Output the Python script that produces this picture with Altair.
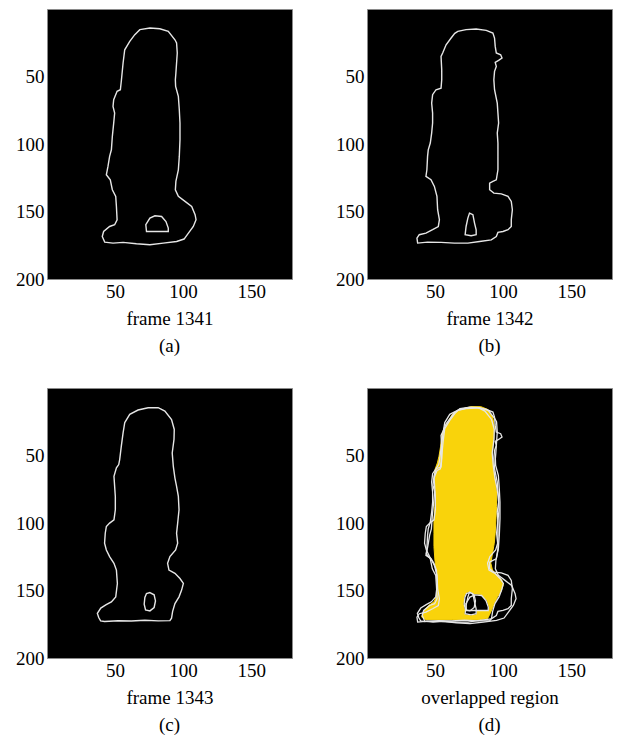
import altair as alt
import pandas as pd

# ---------------- data (image pixel coordinates: x = column, y = row) ----------------
A_OUT_X = [68.2, 75.6, 82.9, 89.1, 94.0, 95.2, 95.7, 94.7, 94.3, 94.5, 96.5, 97.2, 97.7, 97.7, 97.2,
           96.5, 94.7, 94.3, 96.5, 101.4, 106.3, 108.8, 109.5, 107.5, 103.9, 100.7, 95.2, 85.4, 75.6,
           65.7, 55.9, 48.5, 42.4, 40.6, 41.6, 46.0, 49.7, 51.5, 51.0, 50.5, 48.0, 46.5, 43.6, 44.8,
           46.0, 47.3, 48.0, 49.0, 49.7, 48.5, 49.0, 51.5, 53.9, 54.7, 55.9, 57.1, 60.8, 64.5]
A_OUT_Y = [15.3, 14.1, 14.6, 16.6, 22.8, 25.2, 32.6, 47.4, 52.4, 57.3, 64.7, 74.6, 84.5, 96.8, 109.2,
           119.1, 127.7, 133.9, 138.8, 142.5, 146.3, 152.4, 156.1, 161.1, 166.0, 170.4, 172.2, 173.4,
           174.6, 173.9, 172.9, 173.4, 172.7, 168.5, 164.8, 161.1, 159.8, 156.1, 146.3, 138.8, 133.9,
           126.5, 122.8, 116.6, 109.2, 104.3, 94.4, 84.5, 77.1, 72.2, 67.2, 61.0, 59.8, 52.4, 40.0,
           30.2, 24.0, 19.0]
A_HOLE_X = [73.1, 72.6, 75.6, 79.3, 84.2, 87.4, 89.1, 89.1]
A_HOLE_Y = [164.8, 159.8, 154.9, 153.2, 153.7, 157.4, 162.3, 164.8]

B_OUT_X = [64.2, 66.7, 72.8, 80.2, 87.6, 92.5, 93.7, 94.2, 95.0, 98.2, 99.2, 96.7, 94.2, 95.0, 93.7,
           93.2, 93.7, 95.7, 96.2, 96.7, 95.7, 96.2, 96.2, 96.2, 95.0, 92.5, 90.1, 90.1, 93.2, 98.7,
           103.6, 106.0, 106.8, 106.0, 106.0, 103.6, 99.9, 96.2, 95.0, 91.3, 82.7, 74.1, 64.2, 54.4,
           44.5, 37.2, 36.7, 38.4, 43.3, 48.2, 52.4, 53.2, 51.9, 51.4, 49.5, 47.0, 43.3, 44.0, 44.5,
           45.0, 46.5, 47.5, 48.2, 48.2, 47.5, 48.2, 50.7, 54.4, 54.9, 54.9, 54.4, 55.6, 58.1, 61.8]
B_OUT_Y = [18.3, 16.6, 15.3, 14.8, 15.8, 17.8, 21.5, 27.7, 32.6, 33.9, 36.3, 38.1, 39.5, 42.5, 46.2,
           52.4, 59.8, 69.7, 77.1, 84.5, 91.9, 99.3, 109.2, 119.1, 126.5, 127.7, 129.0, 133.9, 136.4,
           136.9, 138.8, 142.5, 148.7, 156.1, 161.1, 163.5, 164.8, 165.5, 168.5, 171.0, 172.2, 173.4,
           173.4, 172.9, 172.7, 173.4, 169.7, 167.2, 166.0, 163.5, 161.1, 156.1, 148.7, 138.8, 131.4,
           126.5, 124.0, 119.1, 109.2, 104.3, 99.3, 91.9, 84.5, 77.1, 69.7, 63.5, 59.8, 58.6, 52.4,
           45.0, 35.1, 32.6, 26.5, 21.5]
B_HOLE_X = [75.3, 77.8, 79.0, 80.2, 80.2, 76.5, 72.1, 72.8, 74.1]
B_HOLE_Y = [151.2, 152.4, 158.6, 163.5, 167.2, 168.0, 167.2, 161.1, 154.9]

C_OUT_X = [57.1, 60.8, 66.9, 74.3, 81.7, 86.6, 91.5, 93.5, 93.3, 92.0, 92.8, 94.0, 95.2, 96.5, 97.0,
           96.0, 95.2, 96.0, 94.5, 90.3, 88.6, 89.6, 94.0, 97.7, 100.2, 98.9, 97.0, 94.0, 92.3, 91.5,
           90.3, 81.7, 71.9, 62.0, 52.2, 42.3, 39.4, 38.0, 37.0, 39.5, 43.5, 47.3, 50.5, 51.7, 51.0,
           49.2, 46.0, 43.6, 42.3, 42.8, 43.6, 46.0, 49.2, 50.2, 50.2, 49.7, 49.2, 51.0, 52.7, 53.4,
           54.6, 55.9]
C_OUT_Y = [25.7, 19.5, 16.3, 14.6, 14.6, 17.1, 23.3, 30.7, 38.1, 48.1, 58.0, 66.7, 72.9, 80.3, 90.2,
           100.1, 107.6, 115.0, 120.0, 124.9, 129.9, 134.9, 137.3, 141.1, 144.8, 149.7, 154.7, 159.7,
           165.5, 170.5, 172.3, 172.5, 172.0, 172.6, 172.4, 173.0, 172.5, 170.0, 167.0, 163.0, 160.5,
           158.4, 154.7, 144.8, 134.9, 129.9, 124.9, 120.0, 115.0, 107.6, 102.6, 100.1, 97.7, 90.2,
           80.3, 72.9, 65.4, 59.2, 56.7, 53.0, 43.1, 33.2]
C_HOLE_X = [75.6, 78.7, 79.7, 78.7, 75.6, 72.4, 71.4, 71.9, 73.1]
C_HOLE_Y = [151.5, 153.2, 157.7, 162.6, 165.1, 164.4, 160.2, 155.2, 152.2]

OVL_X = [59.0, 62.7, 68.9, 76.3, 83.6, 88.6, 92.2, 93.5, 93.0, 92.2, 92.7, 94.2, 95.2, 95.2, 94.7,
         94.2, 93.5, 92.2, 91.0, 92.2, 95.9, 99.1, 100.1, 98.4, 95.9, 93.5, 91.0, 88.6, 82.4, 72.6,
         62.7, 52.9, 43.0, 40.1, 41.8, 45.5, 49.2, 50.9, 51.7, 50.9, 49.9, 49.2, 49.2, 49.2, 49.9,
         50.4, 49.2, 49.9, 51.7, 52.9, 54.1, 55.3]
OVL_Y = [25.7, 19.5, 15.8, 13.8, 13.8, 15.8, 20.8, 28.2, 38.1, 48.1, 58.0, 67.9, 77.8, 87.7, 97.7,
         107.6, 115.0, 122.5, 129.9, 134.9, 138.6, 142.3, 146.0, 151.0, 154.7, 159.7, 165.9, 170.8,
         171.6, 171.6, 171.6, 171.6, 171.6, 169.6, 164.6, 160.9, 158.4, 154.7, 144.8, 134.9, 127.4,
         117.5, 107.6, 97.7, 87.7, 77.8, 67.9, 60.5, 55.5, 50.5, 43.1, 33.2]

X_TICKS = [50, 100, 150]
Y_TICKS = [50, 100, 150, 200]
CAPTIONS = ["frame 1341", "frame 1342", "frame 1343", "overlapped region"]
TAGS = ["(a)", "(b)", "(c)", "(d)"]


def contour(xs, ys, name):
    return pd.DataFrame({"x": xs, "y": ys, "i": list(range(len(xs))), "c": name})


A = pd.concat([contour(A_OUT_X, A_OUT_Y, "a_out"), contour(A_HOLE_X, A_HOLE_Y, "a_hole")])
B = pd.concat([contour(B_OUT_X, B_OUT_Y, "b_out"), contour(B_HOLE_X, B_HOLE_Y, "b_hole")])
C = pd.concat([contour(C_OUT_X, C_OUT_Y, "c_out"), contour(C_HOLE_X, C_HOLE_Y, "c_hole")])
HOLES = pd.concat([contour(A_HOLE_X, A_HOLE_Y, "a_hole"), contour(B_HOLE_X, B_HOLE_Y, "b_hole"),
                   contour(C_HOLE_X, C_HOLE_Y, "c_hole")])
ALL = pd.concat([A, B, C])
OVL = contour(OVL_X, OVL_Y, "ovl")

FONT = "Liberation Serif"
FS = 19
W, H = 245, 270
WHITE = "#e6e6e6"
YELLOW = "#F9D30B"


def enc(caption):
    return dict(
        x=alt.X("x:Q", scale=alt.Scale(domain=[0, 180], nice=False, zero=False),
                axis=alt.Axis(values=X_TICKS, title=caption)),
        y=alt.Y("y:Q", scale=alt.Scale(domain=[0, 200], nice=False, zero=False, reverse=True),
                axis=alt.Axis(values=Y_TICKS, title=None)),
        order=alt.Order("i:Q"),
        detail="c:N",
    )


def outline(df, caption, width=1.4):
    return alt.Chart(df).mark_line(interpolate="linear-closed", stroke=WHITE,
                                   strokeWidth=width).encode(**enc(caption))


def filled(df, caption, color):
    return alt.Chart(df).mark_line(interpolate="linear-closed", fill=color, stroke=color,
                                   strokeWidth=1).encode(**enc(caption))


def panel(layers, k):
    return alt.layer(*layers).properties(
        width=W, height=H,
        title=alt.TitleParams(TAGS[k], orient="bottom", frame="group", font=FONT, fontSize=FS,
                              fontWeight="normal", color="black", offset=9),
    )


pa = panel([outline(A, CAPTIONS[0])], 0)
pb = panel([outline(B, CAPTIONS[1])], 1)
pc = panel([outline(C, CAPTIONS[2])], 2)
pd_ = panel([filled(OVL, CAPTIONS[3], YELLOW), filled(HOLES, CAPTIONS[3], "#000000"),
             outline(ALL, CAPTIONS[3], 1.3)], 3)

chart = alt.vconcat(
    alt.hconcat(pa, pb, spacing=42),
    alt.hconcat(pc, pd_, spacing=42),
    spacing=30,
).properties(
    padding={"left": 7, "top": 0, "right": 0, "bottom": 0},
).configure_view(
    fill="#000000", stroke="#8a8a8a", strokeWidth=1,
).configure_axis(
    labelFont=FONT, labelFontSize=FS, labelColor="black", labelPadding=3,
    labelFlush=False, labelOverlap=False,
    ticks=False, domain=False, grid=False,
    titleFont=FONT, titleFontSize=FS, titleFontWeight="normal", titleColor="black",
    titlePadding=8,
)

chart.save("out.html", embed_options={"renderer": "svg", "actions": False})
